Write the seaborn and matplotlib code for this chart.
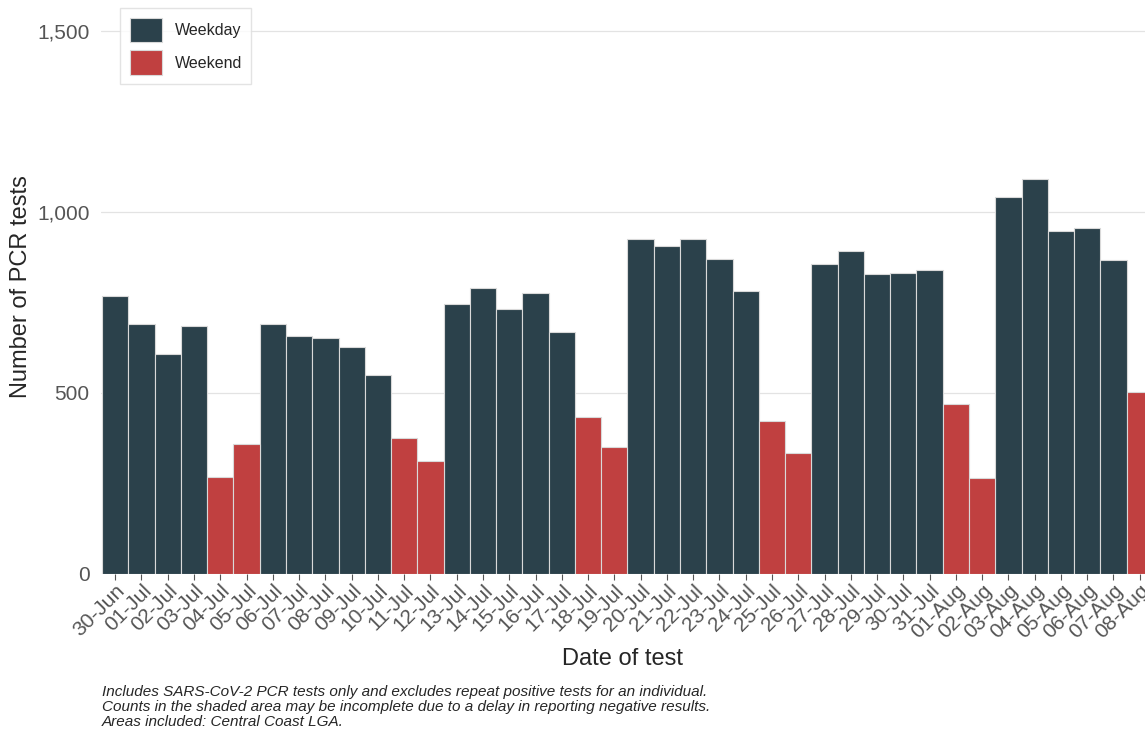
import numpy as np
import pandas as pd
import seaborn as sns
import matplotlib.pyplot as plt

dates = ['30-Jun'] + ['{:02d}-Jul'.format(d) for d in range(1, 32)] + ['{:02d}-Aug'.format(d) for d in range(1, 9)]
tests = [768, 691, 608, 685, 268, 359, 691, 657, 652, 627,
         550, 376, 312, 746, 790, 732, 776, 669, 434, 351,
         925, 906, 925, 870, 782, 423, 334, 856, 892, 829,
         831, 840, 470, 265, 1041, 1091, 948, 956, 867, 503]
weekend_days = ['04-Jul', '05-Jul', '11-Jul', '12-Jul', '18-Jul', '19-Jul',
                '25-Jul', '26-Jul', '01-Aug', '02-Aug', '08-Aug']

df = pd.DataFrame({'date': dates, 'tests': tests})
df['day'] = np.where(df['date'].isin(weekend_days), 'Weekend', 'Weekday')

sns.set_theme(style='white')
plt.rcParams['font.family'] = ['Liberation Sans', 'DejaVu Sans']

fig = plt.figure(figsize=(11.45, 7.33), dpi=100)
ax = fig.add_axes([0.088, 0.217, 0.912, 0.783])

sns.barplot(data=df, x='date', y='tests', hue='day', hue_order=['Weekday', 'Weekend'],
            palette={'Weekday': '#2b414b', 'Weekend': '#c04040'}, dodge=False, saturation=1,
            width=1.0, edgecolor='#d9d9d9', linewidth=0.8, ax=ax)

ax.set_xlim(-0.55, 39.2)
ax.set_ylim(0, 1586)
ax.set_yticks([0, 500, 1000, 1500])
ax.set_yticklabels(['0', '500', '1,000', '1,500'])
ax.yaxis.grid(True, color='#e3e3e3', linewidth=0.9)
ax.set_axisbelow(True)
for s in ax.spines.values():
    s.set_visible(False)
ax.tick_params(axis='x', labelrotation=45, labelsize=15, colors='#555555', length=4, width=0.8, bottom=True, pad=1)
for lbl in ax.get_xticklabels():
    lbl.set_ha('right')
    lbl.set_rotation_mode('anchor')
ax.tick_params(axis='y', labelsize=15, colors='#555555', pad=2)
ax.set_xlabel('Date of test', fontsize=17, labelpad=4)
ax.set_ylabel('Number of PCR tests', fontsize=17)

leg = ax.legend(title=None, loc='upper left', bbox_to_anchor=(0.011, 1.0), fontsize=11.5,
                frameon=True, handlelength=2.0, handleheight=2.0, borderpad=0.6, fancybox=False)
leg.get_frame().set_edgecolor('#dddddd')

fig.text(0.089, 0.035, 'Includes SARS-CoV-2 PCR tests only and excludes repeat positive tests for an individual.\n'
         'Counts in the shaded area may be incomplete due to a delay in reporting negative results.\n'
         'Areas included: Central Coast LGA.', fontsize=11, style='italic', va='center', linespacing=1.1)

fig.savefig('out.png', dpi=100)
